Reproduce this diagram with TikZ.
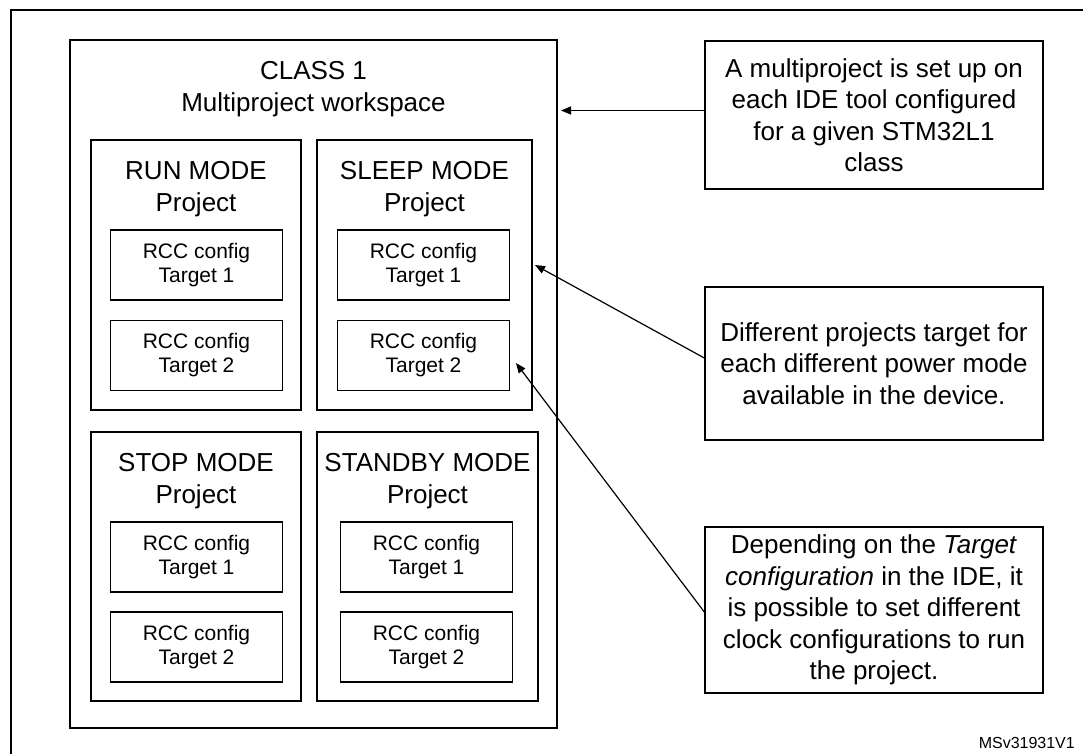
\documentclass[tikz,border=0pt]{standalone}
\usepackage{fontspec}
\setmainfont{Liberation Sans}
\usetikzlibrary{arrows.meta}
\tikzset{
  box/.style={draw, line width=1.4pt, inner sep=0pt, align=center, rectangle},
  big/.style={font=\fontsize{26}{31.5}\selectfont, align=center, inner sep=0pt},
  small/.style={font=\fontsize{21}{24}\selectfont},
  rcc/.style={box, small, minimum width=172pt, minimum height=70pt},
  note/.style={box, big, minimum width=338pt},
  conn/.style={line width=1.2pt, -{Triangle[length=10pt,width=8pt]}},
}
\begin{document}
\begin{tikzpicture}[x=1pt,y=-1pt]
\useasboundingbox (0,0) rectangle (1083,754);
% outer frame
\draw[line width=1.6pt] (11,770) -- (11,10) -- (1100,10);
% class box
\node[box, minimum width=487pt, minimum height=688pt] (class) at (313.5,384) {};
\node[big] (classt) at (313.5,89) {CLASS 1\\Multiproject workspace};
% mode boxes
\node[box, minimum width=210pt, minimum height=270pt] (run) at (196,275) {};
\node[big] (runt) at (196,189) {RUN MODE\\Project};
\node[box, minimum width=215pt, minimum height=270pt] (sleep) at (424.5,275) {};
\node[big] (sleept) at (424.5,189) {SLEEP MODE\\Project};
\node[box, minimum width=210pt, minimum height=269pt] (stop) at (196,566.5) {};
\node[big] (stopt) at (196,481) {STOP MODE\\Project};
\node[box, minimum width=221pt, minimum height=269pt] (standby) at (427.5,566.5) {};
\node[big] (standbyt) at (427.5,481) {STANDBY MODE\\Project};
% RCC boxes
\node[rcc] (run1) at (196.5,265) {RCC config\\Target 1};
\node[rcc] (run2) at (196.5,355.5) {RCC config\\Target 2};
\node[rcc] (sleep1) at (423.5,265) {RCC config\\Target 1};
\node[rcc] (sleep2) at (423.5,355.5) {RCC config\\Target 2};
\node[rcc] (stop1) at (196.5,557) {RCC config\\Target 1};
\node[rcc] (stop2) at (196.5,647) {RCC config\\Target 2};
\node[rcc] (standby1) at (426.5,557) {RCC config\\Target 1};
\node[rcc] (standby2) at (426.5,647) {RCC config\\Target 2};
% notes
\node[note, minimum height=148pt] (n1) at (874,115) {A multiproject is set up on\\each IDE tool configured\\for a given STM32L1\\class};
\node[note, minimum height=153pt] (n2) at (874,363.5) {Different projects target for\\each different power mode\\available in the device.};
\node[note, minimum height=166pt] (n3) at (874,610) {Depending on the \textit{Target}\\\textit{configuration} in the IDE, it\\is possible to set different\\clock configurations to run\\the project.};
% arrow tips
\coordinate (t1) at (561,110.5);
\coordinate (t2) at (535,265);
\coordinate (t3) at (516,363);
\draw[conn] ([yshift=4.5pt]n1.west) -- (t1);
\draw[conn] ([yshift=5.5pt]n2.west) -- (t2);
\draw[conn] ([yshift=-2pt]n3.west) -- (t3);
% footer
\node[font=\fontsize{16}{18}\selectfont, anchor=east, inner sep=0pt] (ref) at (1075,743) {MSv31931V1};
\end{tikzpicture}
\end{document}
